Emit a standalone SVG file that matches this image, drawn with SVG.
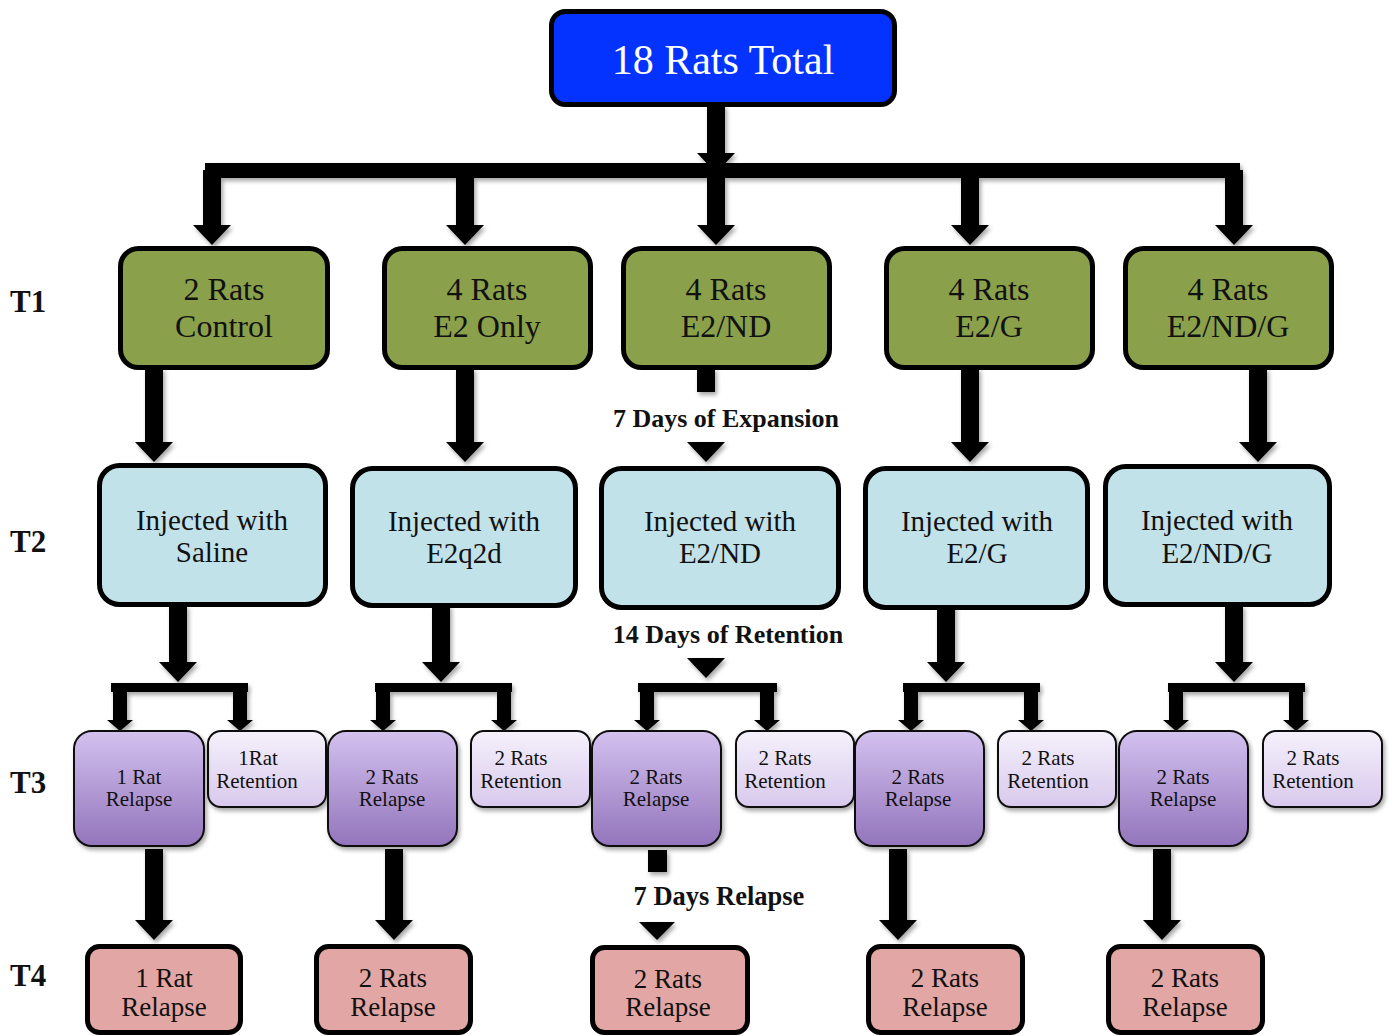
<svg xmlns="http://www.w3.org/2000/svg" width="1392" height="1036" viewBox="0 0 1392 1036">
<defs>
<linearGradient id="gRel" x1="0" y1="0" x2="0" y2="1"><stop offset="0" stop-color="#d3c1ef"/><stop offset="1" stop-color="#9375bc"/></linearGradient>
<linearGradient id="gRet" x1="0" y1="0" x2="0" y2="1"><stop offset="0" stop-color="#f5f1fb"/><stop offset="1" stop-color="#d8c9ed"/></linearGradient>
<filter id="sh" x="-10%" y="-10%" width="130%" height="130%"><feDropShadow dx="2" dy="3" stdDeviation="2" flood-color="#000" flood-opacity="0.35"/></filter>
</defs>
<style>
.t{font-family:"Liberation Serif","Times New Roman",serif;text-anchor:middle;fill:#111}
.b{font-family:"Liberation Serif","Times New Roman",serif;font-weight:bold;fill:#111}
.top{fill:#0433ff;stroke:#000;stroke-width:5}
.g{fill:#8aa04b;stroke:#000;stroke-width:5}
.bl{fill:#c2e2ea;stroke:#000;stroke-width:5}
.rel{fill:url(#gRel);stroke:#111;stroke-width:2;filter:url(#sh)}
.ret{fill:url(#gRet);stroke:#111;stroke-width:2;filter:url(#sh)}
.p{fill:#e2a6a4;stroke:#000;stroke-width:5}
.a{fill:#000}
.f30{font-size:32px}.f28{font-size:29px}.f21{font-size:21px}.f26{font-size:27px}
</style>

<g id="labels">
<text class="b" x="10" y="312" font-size="31">T1</text>
<text class="b" x="10" y="552" font-size="31">T2</text>
<text class="b" x="10" y="793" font-size="31">T3</text>
<text class="b" x="10" y="986" font-size="31">T4</text>
<text class="b" x="726" y="427" font-size="26" text-anchor="middle">7 Days of Expansion</text>
<text class="b" x="728" y="643" font-size="26" text-anchor="middle">14 Days of Retention</text>
<text class="b" x="719" y="905" font-size="26.5" text-anchor="middle">7 Days Relapse</text>
</g>

<g id="connectors" filter="url(#sh)">
<polygon class="a" points="707,105 725,105 725,153 735,153 716,173 697,153 707,153"/>
<rect class="a" x="205" y="163" width="1035" height="15"/>
<polygon class="a" points="203,170 221,170 221,225 231,225 212,245 193,225 203,225"/>
<polygon class="a" points="456,170 474,170 474,225 484,225 465,245 446,225 456,225"/>
<polygon class="a" points="707,170 725,170 725,225 735,225 716,245 697,225 707,225"/>
<polygon class="a" points="961,170 979,170 979,225 989,225 970,245 951,225 961,225"/>
<polygon class="a" points="1225,170 1243,170 1243,225 1253,225 1234,245 1215,225 1225,225"/>

<polygon class="a" points="145,368 163,368 163,442 173,442 154,462 135,442 145,442"/>
<polygon class="a" points="456,368 474,368 474,442 484,442 465,462 446,442 456,442"/>
<rect class="a" x="697" y="368" width="18" height="24"/>
<polygon class="a" points="687,442 725,442 706,462"/>
<polygon class="a" points="961,368 979,368 979,442 989,442 970,462 951,442 961,442"/>
<polygon class="a" points="1249,368 1267,368 1267,442 1277,442 1258,462 1239,442 1249,442"/>

<polygon class="a" points="169,605 187,605 187,662 197,662 178,682 159,662 169,662"/>
<polygon class="a" points="432,605 450,605 450,662 460,662 441,682 422,662 432,662"/>
<polygon class="a" points="687,658 725,658 706,678"/>
<polygon class="a" points="937,605 955,605 955,662 965,662 946,682 927,662 937,662"/>
<polygon class="a" points="1225,605 1243,605 1243,662 1253,662 1234,682 1215,662 1225,662"/>

<rect class="a" x="111" y="683" width="137" height="9"/>
<rect class="a" x="375" y="683" width="137" height="9"/>
<rect class="a" x="638" y="683" width="139" height="9"/>
<rect class="a" x="903" y="683" width="137" height="9"/>
<rect class="a" x="1168" y="683" width="137" height="9"/>

<polygon class="a" points="113,688 127,688 127,720 133,720 120,731 107,720 113,720"/>
<polygon class="a" points="233,688 247,688 247,720 253,720 240,731 227,720 233,720"/>
<polygon class="a" points="376,688 390,688 390,720 396,720 383,731 370,720 376,720"/>
<polygon class="a" points="497,688 511,688 511,720 517,720 504,731 491,720 497,720"/>
<polygon class="a" points="640,688 654,688 654,720 660,720 647,731 634,720 640,720"/>
<polygon class="a" points="760,688 774,688 774,720 780,720 767,731 754,720 760,720"/>
<polygon class="a" points="904,688 918,688 918,720 924,720 911,731 898,720 904,720"/>
<polygon class="a" points="1024,688 1038,688 1038,720 1044,720 1031,731 1018,720 1024,720"/>
<polygon class="a" points="1169,688 1183,688 1183,720 1189,720 1176,731 1163,720 1169,720"/>
<polygon class="a" points="1289,688 1303,688 1303,720 1309,720 1296,731 1283,720 1289,720"/>

<polygon class="a" points="145,849 163,849 163,920 173,920 154,940 135,920 145,920"/>
<polygon class="a" points="385,849 403,849 403,920 413,920 394,940 375,920 385,920"/>
<rect class="a" x="648" y="850" width="19" height="22"/>
<polygon class="a" points="639,922 675,922 657,940"/>
<polygon class="a" points="889,849 907,849 907,920 917,920 898,940 879,920 889,920"/>
<polygon class="a" points="1153,849 1171,849 1171,920 1181,920 1162,940 1143,920 1153,920"/>
</g>

<g id="n-total"><rect class="top" x="551.5" y="11.5" width="343" height="93" rx="14"/><text class="t" x="723" y="74" font-size="42" style="fill:#fff">18 Rats Total</text></g>

<g id="n-t1-control"><rect class="g" x="120.5" y="248.5" width="207" height="119" rx="18"/><text class="t f30" x="224" y="300">2 Rats</text><text class="t f30" x="224" y="337">Control</text></g>
<g id="n-t1-e2only"><rect class="g" x="384.5" y="248.5" width="206" height="119" rx="18"/><text class="t f30" x="487" y="300">4 Rats</text><text class="t f30" x="487" y="337">E2 Only</text></g>
<g id="n-t1-e2nd"><rect class="g" x="623.5" y="248.5" width="206" height="119" rx="18"/><text class="t f30" x="726" y="300">4 Rats</text><text class="t f30" x="726" y="337">E2/ND</text></g>
<g id="n-t1-e2g"><rect class="g" x="886.5" y="248.5" width="206" height="119" rx="18"/><text class="t f30" x="989" y="300">4 Rats</text><text class="t f30" x="989" y="337">E2/G</text></g>
<g id="n-t1-e2ndg"><rect class="g" x="1125.5" y="248.5" width="206" height="119" rx="18"/><text class="t f30" x="1228" y="300">4 Rats</text><text class="t f30" x="1228" y="337">E2/ND/G</text></g>

<g id="n-t2-saline"><rect class="bl" x="99.5" y="465.5" width="226" height="139" rx="20"/><text class="t f28" x="212" y="530">Injected with</text><text class="t f28" x="212" y="562">Saline</text></g>
<g id="n-t2-e2q2d"><rect class="bl" x="352.5" y="468.5" width="223" height="137" rx="20"/><text class="t f28" x="464" y="531">Injected with</text><text class="t f28" x="464" y="563">E2q2d</text></g>
<g id="n-t2-e2nd"><rect class="bl" x="601.5" y="468.5" width="237" height="139" rx="20"/><text class="t f28" x="720" y="531">Injected with</text><text class="t f28" x="720" y="563">E2/ND</text></g>
<g id="n-t2-e2g"><rect class="bl" x="865.5" y="468.5" width="222" height="139" rx="20"/><text class="t f28" x="977" y="531">Injected with</text><text class="t f28" x="977" y="563">E2/G</text></g>
<g id="n-t2-e2ndg"><rect class="bl" x="1105.5" y="466.5" width="224" height="138" rx="20"/><text class="t f28" x="1217" y="530">Injected with</text><text class="t f28" x="1217" y="563">E2/ND/G</text></g>

<g id="n-t3-ret1"><rect class="ret" x="208" y="731" width="118" height="76" rx="13"/><text class="t f21" x="258" y="765">1Rat</text><text class="t f21" x="257" y="788">Retention</text></g>
<g id="n-t3-ret2"><rect class="ret" x="471" y="731" width="119" height="76" rx="13"/><text class="t f21" x="521" y="765">2 Rats</text><text class="t f21" x="521" y="788">Retention</text></g>
<g id="n-t3-ret3"><rect class="ret" x="736" y="731" width="118" height="76" rx="13"/><text class="t f21" x="785" y="765">2 Rats</text><text class="t f21" x="785" y="788">Retention</text></g>
<g id="n-t3-ret4"><rect class="ret" x="998" y="731" width="118" height="76" rx="13"/><text class="t f21" x="1048" y="765">2 Rats</text><text class="t f21" x="1048" y="788">Retention</text></g>
<g id="n-t3-ret5"><rect class="ret" x="1263" y="731" width="119" height="76" rx="13"/><text class="t f21" x="1313" y="765">2 Rats</text><text class="t f21" x="1313" y="788">Retention</text></g>

<g id="n-t3-rel1"><rect class="rel" x="74" y="731" width="130" height="115" rx="18"/><text class="t f21" x="139" y="784">1 Rat</text><text class="t f21" x="139" y="806">Relapse</text></g>
<g id="n-t3-rel2"><rect class="rel" x="328" y="731" width="129" height="115" rx="18"/><text class="t f21" x="392" y="784">2 Rats</text><text class="t f21" x="392" y="806">Relapse</text></g>
<g id="n-t3-rel3"><rect class="rel" x="592" y="731" width="129" height="115" rx="18"/><text class="t f21" x="656" y="784">2 Rats</text><text class="t f21" x="656" y="806">Relapse</text></g>
<g id="n-t3-rel4"><rect class="rel" x="855" y="731" width="129" height="115" rx="18"/><text class="t f21" x="918" y="784">2 Rats</text><text class="t f21" x="918" y="806">Relapse</text></g>
<g id="n-t3-rel5"><rect class="rel" x="1119" y="731" width="129" height="115" rx="18"/><text class="t f21" x="1183" y="784">2 Rats</text><text class="t f21" x="1183" y="806">Relapse</text></g>

<g id="n-t4-1"><rect class="p" x="87.5" y="946.5" width="153" height="86" rx="12"/><text class="t f26" x="164" y="987">1 Rat</text><text class="t f26" x="164" y="1016">Relapse</text></g>
<g id="n-t4-2"><rect class="p" x="316.5" y="946.5" width="154" height="86" rx="12"/><text class="t f26" x="393" y="987">2 Rats</text><text class="t f26" x="393" y="1016">Relapse</text></g>
<g id="n-t4-3"><rect class="p" x="592.5" y="947.5" width="155" height="85" rx="12"/><text class="t f26" x="668" y="988">2 Rats</text><text class="t f26" x="668" y="1016">Relapse</text></g>
<g id="n-t4-4"><rect class="p" x="868.5" y="946.5" width="154" height="86" rx="12"/><text class="t f26" x="945" y="987">2 Rats</text><text class="t f26" x="945" y="1016">Relapse</text></g>
<g id="n-t4-5"><rect class="p" x="1108.5" y="946.5" width="154" height="86" rx="12"/><text class="t f26" x="1185" y="987">2 Rats</text><text class="t f26" x="1185" y="1016">Relapse</text></g>
</svg>
